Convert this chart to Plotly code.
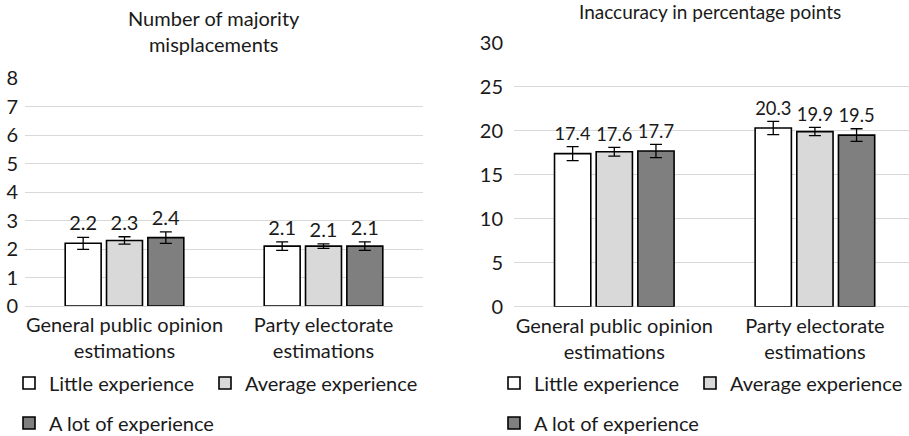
import plotly.graph_objects as go

# Categories and series values
categories = ["General public opinion<br>estimations", "Party electorate<br>estimations"]
series_names = ["Little experience", "Average experience", "A lot of experience"]

misplace_little = [2.2, 2.1]
misplace_average = [2.3, 2.1]
misplace_lot = [2.4, 2.1]
misplace_err_little = [0.21, 0.15]
misplace_err_average = [0.13, 0.08]
misplace_err_lot = [0.20, 0.15]

inacc_little = [17.4, 20.3]
inacc_average = [17.6, 19.9]
inacc_lot = [17.7, 19.5]
inacc_err_little = [0.80, 0.75]
inacc_err_average = [0.50, 0.47]
inacc_err_lot = [0.75, 0.72]

fills = ["#ffffff", "#d9d9d9", "#7f7f7f"]
FONT = "Lato"
TXT = "#1a1a1a"
GRID = "#d9d9d9"
FS = 20

W, H = 909, 436

fig = go.Figure()

# (bar x-axis, bar y-axis, label x-axis, label y-axis, values, errors, legends)
panels = [
    ("x", "y", "x3", "y3", [misplace_little, misplace_average, misplace_lot],
     [misplace_err_little, misplace_err_average, misplace_err_lot],
     ["legend", "legend2", "legend3"]),
    ("x2", "y2", "x4", "y4", [inacc_little, inacc_average, inacc_lot],
     [inacc_err_little, inacc_err_average, inacc_err_lot],
     ["legend4", "legend5", "legend6"]),
]

for xa, ya, xl, yl, vals, errs, legs in panels:
    for name, v, e, c, lg in zip(series_names, vals, errs, fills, legs):
        fig.add_trace(go.Bar(
            x=categories, y=v, name=name, xaxis=xa, yaxis=ya,
            marker=dict(color=c, line=dict(color="#000000", width=1.6)),
            error_y=dict(type="data", array=e, visible=True,
                         color="#000000", thickness=1.3, width=6),
            legend=lg, showlegend=True, hoverinfo="skip",
        ))
    # value labels: transparent bars reaching the top of each error bar,
    # on an overlaid axis pair so they group in the same slots
    for name, v, e in zip(series_names, vals, errs):
        fig.add_trace(go.Bar(
            x=categories, y=[a + b for a, b in zip(v, e)],
            text=[f"{a:.1f}" for a in v], textposition="outside",
            textfont=dict(family=FONT, size=FS, color=TXT),
            cliponaxis=False,
            marker=dict(color="rgba(0,0,0,0)", line=dict(width=0)),
            xaxis=xl, yaxis=yl, showlegend=False, hoverinfo="skip",
        ))

axis_font = dict(family=FONT, size=FS, color=TXT)

def ydom(top_px, bottom_px):
    return [1 - bottom_px / H, 1 - top_px / H]

xd1 = [25 / W, 423 / W]
yd1 = ydom(78, 306)
xd2 = [514 / W, 1.0]
yd2 = ydom(42.7, 306.7)

fig.update_layout(
    width=W, height=H,
    margin=dict(l=0, r=0, t=0, b=0, autoexpand=False),
    paper_bgcolor="white", plot_bgcolor="white",
    barmode="group", bargap=0.377, bargroupgap=0.13,
    font=dict(family=FONT, size=FS, color=TXT),
    xaxis=dict(domain=xd1, anchor="y", range=[-0.5, 1.5],
               showgrid=False, showline=False, ticks="",
               tickfont=axis_font, ticklabelstandoff=5, automargin=False),
    yaxis=dict(domain=yd1, anchor="x", range=[0, 8], dtick=1,
               showgrid=True, gridcolor=GRID, gridwidth=1.3,
               zeroline=True, zerolinecolor=GRID, zerolinewidth=1.3,
               showline=False, ticks="", tickfont=axis_font,
               ticklabelstandoff=6, automargin=False),
    xaxis2=dict(domain=xd2, anchor="y2", range=[-0.5, 1.469],
                showgrid=False, showline=False, ticks="",
                tickfont=axis_font, ticklabelstandoff=5, automargin=False),
    yaxis2=dict(domain=yd2, anchor="x2", range=[0, 30], dtick=5,
                showgrid=True, gridcolor=GRID, gridwidth=1.3,
                zeroline=True, zerolinecolor=GRID, zerolinewidth=1.3,
                showline=False, ticks="", tickfont=axis_font,
                ticklabelstandoff=10, automargin=False),
    # overlaid axes carrying the value labels
    xaxis3=dict(domain=xd1, anchor="y3", overlaying="x", range=[-0.5, 1.5],
                visible=False),
    yaxis3=dict(domain=yd1, anchor="x3", overlaying="y", range=[0, 8],
                visible=False),
    xaxis4=dict(domain=xd2, anchor="y4", overlaying="x2", range=[-0.5, 1.469],
                visible=False),
    yaxis4=dict(domain=yd2, anchor="x4", overlaying="y2", range=[0, 30],
                visible=False),
    annotations=[
        dict(text="Number of majority<br>misplacements", x=214 / W, y=1 - 31 / H,
             xref="paper", yref="paper", showarrow=False,
             xanchor="center", yanchor="middle",
             font=dict(family=FONT, size=FS, color=TXT)),
        dict(text="Inaccuracy in percentage points", x=710 / W, y=1 - 11 / H,
             xref="paper", yref="paper", showarrow=False,
             xanchor="center", yanchor="middle",
             font=dict(family=FONT, size=19, color=TXT)),
    ],
)

leg_common = dict(orientation="h", xanchor="left", yanchor="middle",
                  bgcolor="rgba(0,0,0,0)", borderwidth=0,
                  font=dict(family=FONT, size=FS, color=TXT),
                  itemclick=False, itemdoubleclick=False)
row1, row2 = 1 - 383 / H, 1 - 423 / H
fig.update_layout(
    legend=dict(x=9 / W, y=row1, **leg_common),
    legend2=dict(x=205 / W, y=row1, **leg_common),
    legend3=dict(x=9 / W, y=row2, **leg_common),
    legend4=dict(x=494 / W, y=row1, **leg_common),
    legend5=dict(x=690 / W, y=row1, **leg_common),
    legend6=dict(x=494 / W, y=row2, **leg_common),
)

fig.write_html("out.html", config={"displayModeBar": False})
